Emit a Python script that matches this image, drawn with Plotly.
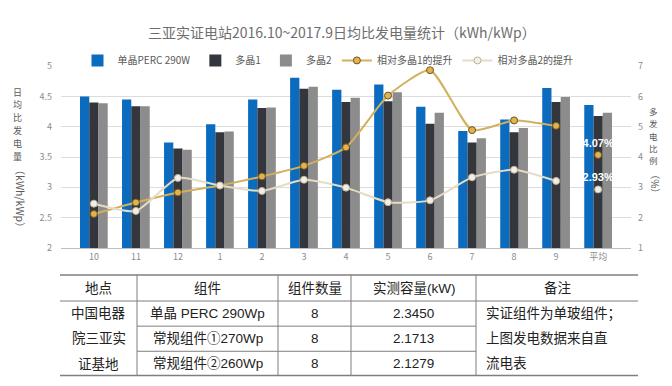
import plotly.graph_objects as go

W, H = 672, 386

months = ["10", "11", "12", "1", "2", "3", "4", "5", "6", "7", "8", "9", "平均"]
perc_290 = [4.50, 4.45, 3.74, 4.04, 4.45, 4.81, 4.61, 4.70, 4.33, 3.93, 4.12, 4.64, 4.36]
poly_1 = [4.40, 4.34, 3.64, 3.91, 4.31, 4.63, 4.41, 4.42, 4.05, 3.74, 3.91, 4.41, 4.18]
poly_2 = [4.39, 4.34, 3.62, 3.92, 4.32, 4.66, 4.48, 4.57, 4.23, 3.81, 3.98, 4.49, 4.23]
gain_vs_1 = [2.12, 2.50, 2.83, 3.06, 3.36, 3.71, 4.32, 6.03, 6.87, 4.89, 5.21, 5.03]
gain_vs_2 = [2.46, 2.22, 3.31, 3.06, 2.88, 3.25, 2.99, 2.51, 2.57, 3.33, 3.58, 3.21]
avg_gain_1 = 4.07
avg_gain_2 = 2.93

table_header = ["地点", "组件", "组件数量", "实测容量(kW)", "备注"]
table_site = ["中国电器", "院三亚实", "证基地"]
table_module = ["单晶 PERC 290Wp", "常规组件①270Wp", "常规组件②260Wp"]
table_count = ["8", "8", "8"]
table_capacity = ["2.3450", "2.1713", "2.1279"]
table_note = ["实证组件为单玻组件；", "上图发电数据来自直", "流电表"]

left_title_cn = "日均比发电量"
left_title_unit = "（kWh/kWp）"
right_title_cn = "多发电比例"
right_title_unit = "（%）"

# pixel helpers (margins are zero, so paper == figure)
def px(x):
    return x / W

def py(y):
    return (H - y) / H

fig = go.Figure()

bar_specs = [("单晶PERC 290W", perc_290, "#0B6CBF"),
             ("多晶1", poly_1, "#33363C"),
             ("多晶2", poly_2, "#8C8C8C")]
for name, vals, col in bar_specs:
    fig.add_trace(go.Bar(x=months, y=vals, name=name, marker=dict(color=col, line=dict(width=0)),
                         yaxis="y"))

gold_marker = dict(size=7, color="#E2B24C", line=dict(color="#6B5422", width=1))
light_marker = dict(size=7, color="#F3EFE6", line=dict(color="#BDB39C", width=1))
fig.add_trace(go.Scatter(x=months[:-1], y=gain_vs_1, name="相对多晶1的提升", yaxis="y2",
                         mode="lines+markers",
                         line=dict(color="#D2B05C", width=2, shape="spline", smoothing=0.55),
                         marker=gold_marker))
fig.add_trace(go.Scatter(x=months[:-1], y=gain_vs_2, name="相对多晶2的提升", yaxis="y2",
                         mode="lines+markers",
                         line=dict(color="#E6DCC6", width=2, shape="spline", smoothing=0.55),
                         marker=light_marker))
lblfont = dict(color="white", size=11, family="Liberation Sans, Arial")
fig.add_trace(go.Scatter(x=[months[-1]], y=[avg_gain_1], yaxis="y2", mode="markers+text",
                         text=[f"<b>{avg_gain_1:.2f}%</b>"], textposition="top center",
                         textfont=lblfont, marker=gold_marker, showlegend=False))
fig.add_trace(go.Scatter(x=[months[-1]], y=[avg_gain_2], yaxis="y2", mode="markers+text",
                         text=[f"<b>{avg_gain_2:.2f}%</b>"], textposition="top center",
                         textfont=lblfont, marker=light_marker, showlegend=False))

tickfont = dict(size=9, color="#8C8C8C", family="Noto Sans CJK SC")
fig.update_layout(
    width=W, height=H,
    margin=dict(l=0, r=0, t=0, b=0),
    paper_bgcolor="white", plot_bgcolor="white",
    barmode="group", bargap=0.34, bargroupgap=0,
    font=dict(family="Noto Sans CJK SC", color="#595959"),
    xaxis=dict(domain=[px(53), px(623)], tickfont=tickfont, showgrid=False,
               showline=True, linecolor="#BFBFBF", ticks="", anchor="y"),
    yaxis=dict(domain=[py(241), py(53)], range=[2, 5], dtick=0.5, tickfont=tickfont,
               gridcolor="#DCDCDC", zeroline=False, showline=False, ticks="",
               tickformat="~g", ticklabelstandoff=8),
    yaxis2=dict(overlaying="y", side="right", range=[1, 7], dtick=1, tickfont=tickfont,
                showgrid=False, zeroline=False, showline=False, ticks="", anchor="x",
                ticklabelstandoff=6),
    legend=dict(orientation="h", x=px(320), xanchor="center", y=py(47), yanchor="middle",
                bgcolor="rgba(0,0,0,0)", font=dict(size=10, color="#595959"),
                itemwidth=30, tracegroupgap=0, traceorder="normal"),
    showlegend=True,
)

annotations = [
    dict(text="三亚实证电站2016.10~2017.9日均比发电量统计（kWh/kWp）", x=px(334), y=py(18),
         xref="paper", yref="paper", showarrow=False, xanchor="center", yanchor="middle",
         font=dict(size=14, color="#6E6E6E")),
]

# vertical axis titles: upright stacked CJK characters + rotated unit text
def stacked(chars, xc, y_top, size, pitch):
    for i, ch in enumerate(chars):
        annotations.append(dict(text=ch, x=px(xc), y=py(y_top + pitch * (i + 0.5)),
                                xref="paper", yref="paper", showarrow=False, borderpad=0,
                                xanchor="center", yanchor="middle",
                                font=dict(size=size, color="#595959")))

stacked(left_title_cn, 9, 73, 9, 13.4)
annotations.append(dict(text=left_title_unit, x=px(12), y=py(190), xref="paper", yref="paper",
                        showarrow=False, textangle=90, xanchor="center", yanchor="middle",
                        borderpad=0, font=dict(size=10.5, color="#595959")))
stacked(right_title_cn, 645, 93, 8.5, 12.7)
annotations.append(dict(text=right_title_unit, x=px(648), y=py(174), xref="paper", yref="paper",
                        showarrow=False, textangle=90, xanchor="center", yanchor="middle",
                        borderpad=0, font=dict(size=10, color="#595959")))

# table geometry (pixels)
col_edges = [52, 129, 270, 343, 468, 630]
row_y = [269, 296, 322, 348, 373]
shapes = []
line_col = "#7F7F7F"
shapes.append(dict(type="line", xref="paper", yref="paper", x0=px(52), x1=px(630),
                   y0=py(row_y[0]), y1=py(row_y[0]), line=dict(color=line_col, width=1.5)))
shapes.append(dict(type="line", xref="paper", yref="paper", x0=px(52), x1=px(630),
                   y0=py(row_y[1]), y1=py(row_y[1]), line=dict(color=line_col, width=1)))
for r in (2, 3):
    shapes.append(dict(type="line", xref="paper", yref="paper", x0=px(129), x1=px(468),
                       y0=py(row_y[r]), y1=py(row_y[r]), line=dict(color=line_col, width=1)))
shapes.append(dict(type="line", xref="paper", yref="paper", x0=px(52), x1=px(630),
                   y0=py(row_y[4]), y1=py(row_y[4]), line=dict(color=line_col, width=1.5)))
for cx in col_edges[1:-1]:
    shapes.append(dict(type="line", xref="paper", yref="paper", x0=px(cx), x1=px(cx),
                       y0=py(row_y[0]), y1=py(row_y[4]), line=dict(color=line_col, width=1)))

tfont = dict(size=13.5, color="#222222", family="Liberation Sans, Noto Sans CJK SC")
for i, h in enumerate(table_header):
    cx = (col_edges[i] + col_edges[i + 1]) / 2
    annotations.append(dict(text=h, x=px(cx), y=py(283), xref="paper", yref="paper",
                            showarrow=False, xanchor="center", yanchor="middle", font=tfont))
row_centers = [309, 335, 361]
for r in range(3):
    yc = row_centers[r]
    annotations.append(dict(text=table_site[r], x=px(90.5), y=py(yc), xref="paper", yref="paper",
                            showarrow=False, xanchor="center", yanchor="middle", font=tfont))
    annotations.append(dict(text=table_module[r], x=px(199.5), y=py(yc), xref="paper", yref="paper",
                            showarrow=False, xanchor="center", yanchor="middle", font=tfont))
    annotations.append(dict(text=table_count[r], x=px(306.5), y=py(yc), xref="paper", yref="paper",
                            showarrow=False, xanchor="center", yanchor="middle", font=tfont))
    annotations.append(dict(text=table_capacity[r], x=px(405.5), y=py(yc), xref="paper", yref="paper",
                            showarrow=False, xanchor="center", yanchor="middle", font=tfont))
    annotations.append(dict(text=table_note[r], x=px(476), y=py(yc), xref="paper", yref="paper",
                            showarrow=False, xanchor="left", yanchor="middle", font=tfont))

fig.update_layout(annotations=annotations, shapes=shapes)

fig.write_html("out.html")
